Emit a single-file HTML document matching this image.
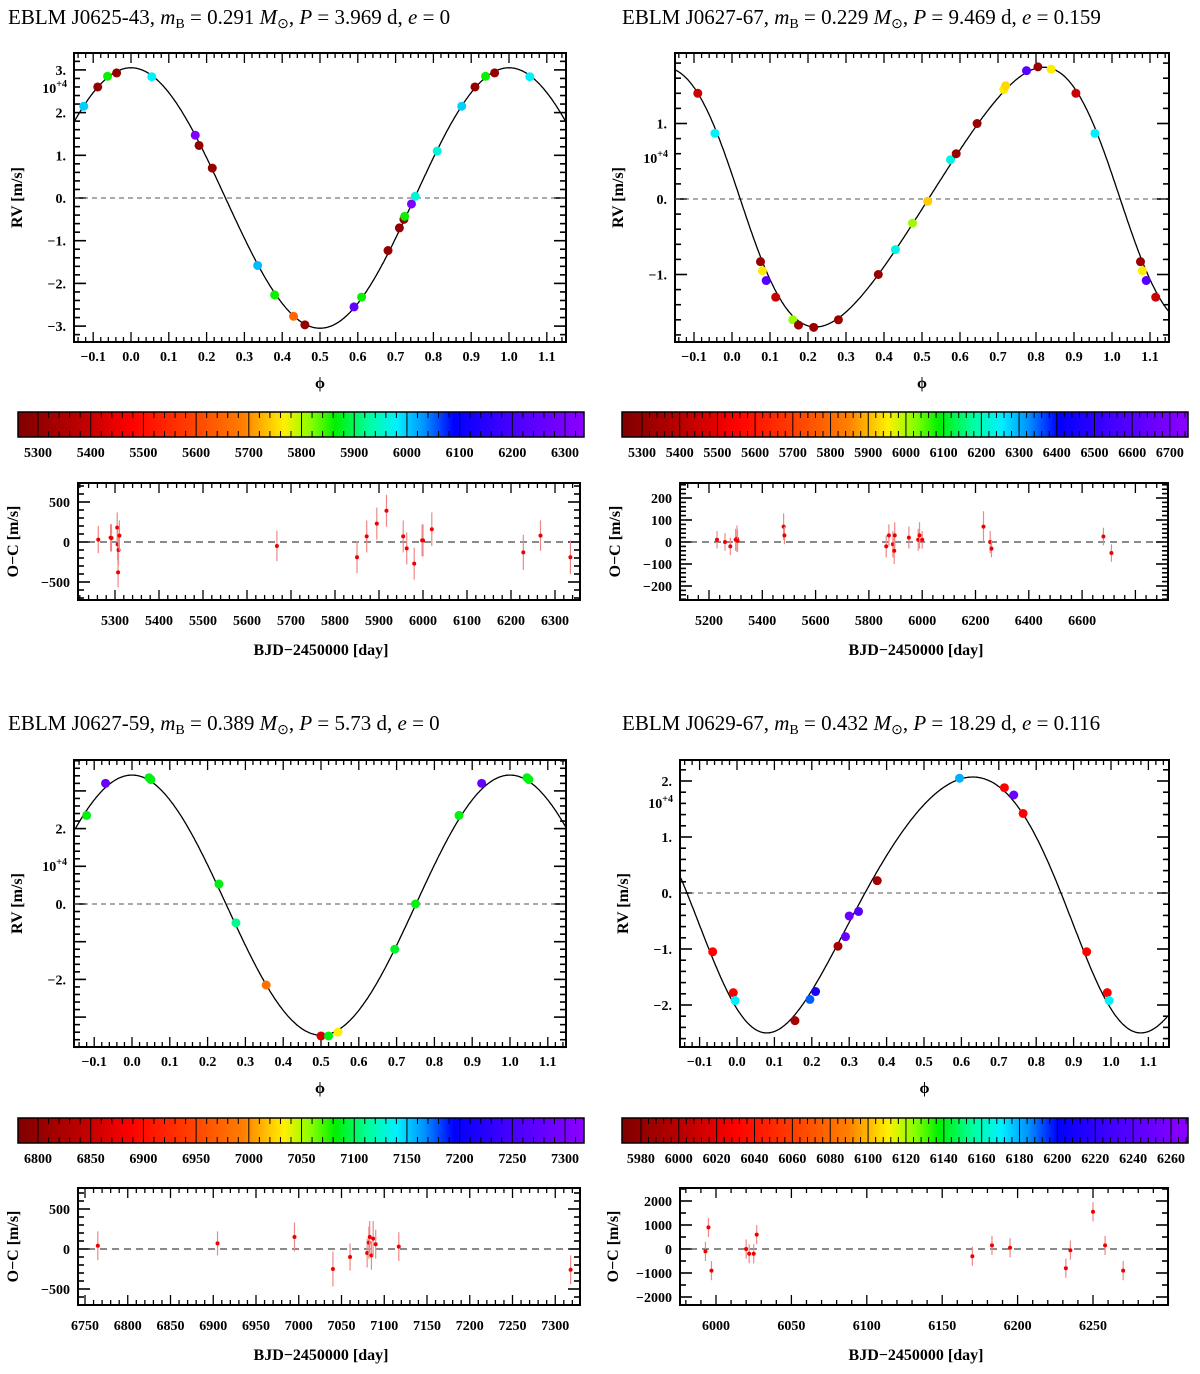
<!DOCTYPE html>
<html><head><meta charset="utf-8">
<style>
html,body{margin:0;padding:0;background:#fff;}
svg{display:block;font-family:"Liberation Serif",serif;}
.t{font-size:21px;}
.tl{font-size:14px;font-weight:bold;}
.al{font-size:16px;font-weight:bold;}
</style></head>
<body>
<svg id="fig" width="1200" height="1374" viewBox="0 0 1200 1374" xmlns="http://www.w3.org/2000/svg">
<text class="t" x="8" y="24">EBLM J0625-43, <tspan font-style="italic">m</tspan><tspan font-size="14" dy="4">B</tspan><tspan dy="-4"> = 0.291 </tspan><tspan font-style="italic">M</tspan><tspan font-size="14" dy="4">⊙</tspan><tspan dy="-4">, </tspan><tspan font-style="italic">P</tspan> = 3.969 d, <tspan font-style="italic">e</tspan> = 0</text>
<text class="t" x="622" y="24">EBLM J0627-67, <tspan font-style="italic">m</tspan><tspan font-size="14" dy="4">B</tspan><tspan dy="-4"> = 0.229 </tspan><tspan font-style="italic">M</tspan><tspan font-size="14" dy="4">⊙</tspan><tspan dy="-4">, </tspan><tspan font-style="italic">P</tspan> = 9.469 d, <tspan font-style="italic">e</tspan> = 0.159</text>
<text class="t" x="8" y="730">EBLM J0627-59, <tspan font-style="italic">m</tspan><tspan font-size="14" dy="4">B</tspan><tspan dy="-4"> = 0.389 </tspan><tspan font-style="italic">M</tspan><tspan font-size="14" dy="4">⊙</tspan><tspan dy="-4">, </tspan><tspan font-style="italic">P</tspan> = 5.73 d, <tspan font-style="italic">e</tspan> = 0</text>
<text class="t" x="622" y="730">EBLM J0629-67, <tspan font-style="italic">m</tspan><tspan font-size="14" dy="4">B</tspan><tspan dy="-4"> = 0.432 </tspan><tspan font-style="italic">M</tspan><tspan font-size="14" dy="4">⊙</tspan><tspan dy="-4">, </tspan><tspan font-style="italic">P</tspan> = 18.29 d, <tspan font-style="italic">e</tspan> = 0.116</text>
</svg>
<script>
// ---- data: panel 1 (J0625-43) ----
const p1Phase=[-0.125,-0.088,-0.062,-0.038,0.055,0.17,0.18,0.215,0.335,0.38,0.43,0.46,0.59,0.61,0.68,0.71,0.722,0.724,0.742,0.752,0.81,0.875,0.91,0.938,0.962,1.055];
const p1RV=[2.15,2.6,2.85,2.93,2.84,1.47,1.23,0.7,-1.58,-2.27,-2.77,-2.97,-2.55,-2.32,-1.23,-0.7,-0.5,-0.43,-0.14,0.04,1.1,2.15,2.6,2.85,2.93,2.84];
const p1BJD=[6000,5300,5860,5300,5980,6310,5300,5300,6010,5860,5650,5300,6250,5860,5300,5300,5300,5860,6300,5960,5960,6000,5300,5860,5300,5980];
const p1OCd=[5262,5290,5292,5305,5306,5308,5310,5307,5668,5850,5872,5895,5917,5955,5963,5980,5998,6000,6020,6228,6267,6335];
const p1OCv=[30,55,50,180,-30,-100,80,-380,-50,-190,70,230,390,70,-80,-270,20,20,160,-130,80,-190];
const p1OCe=[170,170,170,190,190,190,190,190,190,200,200,200,200,200,200,200,200,200,210,220,190,210];
// ---- data: panel 2 (J0627-67) ----
const p2Phase=[-0.09,-0.045,0.075,0.08,0.09,0.115,0.16,0.175,0.215,0.28,0.385,0.43,0.475,0.515,0.575,0.59,0.645,0.715,0.72,0.775,0.805,0.84,0.905,0.955,1.075,1.08,1.09,1.115];
const p2RV=[1.4,0.87,-0.83,-0.95,-1.08,-1.3,-1.6,-1.67,-1.7,-1.6,-1.0,-0.67,-0.32,-0.03,0.52,0.6,1.0,1.45,1.5,1.7,1.75,1.72,1.4,0.87,-0.83,-0.95,-1.08,-1.3];
const p2BJD=[5450,6250,5320,5950,6600,5450,6010,5320,5320,5320,5320,6230,6010,5920,6230,5320,5320,5950,5930,6600,5320,5950,5450,6250,5320,5950,6600,5450];
const p2OCd=[5230,5260,5280,5300,5305,5307,5480,5483,5865,5875,5890,5895,5897,5950,5985,5990,6000,6230,6255,6260,6680,6710];
const p2OCv=[10,0,-20,10,15,5,70,30,-20,30,-10,-40,30,20,10,30,10,70,0,-30,25,-50];
const p2OCe=[40,40,40,50,60,50,60,40,50,50,60,60,60,50,50,60,40,70,50,40,40,40];
// ---- data: panel 3 (J0627-59) ----
const p3Phase=[-0.12,-0.07,0.045,0.05,0.23,0.275,0.355,0.5,0.52,0.545,0.695,0.75,0.865,0.925,1.045,1.05];
const p3RV=[2.35,3.2,3.35,3.3,0.53,-0.5,-2.15,-3.5,-3.5,-3.4,-1.2,0.0,2.35,3.2,3.35,3.3];
const p3BJD=[7085,7280,7085,7085,7085,7110,6985,6860,7085,7033,7090,7085,7085,7280,7085,7085];
const p3OCd=[6765,6905,6995,7040,7060,7080,7082,7083,7085,7087,7090,7117,7318];
const p3OCv=[40,70,150,-250,-100,-50,80,150,-80,130,60,30,-260];
const p3OCe=[180,150,180,220,170,180,200,200,180,220,180,180,180];
// ---- data: panel 4 (J0629-67) ----
const p4Phase=[-0.065,-0.01,-0.005,0.155,0.195,0.21,0.27,0.29,0.3,0.325,0.375,0.595,0.715,0.74,0.765,0.935,0.99,0.995];
const p4RV=[-1.05,-1.78,-1.92,-2.28,-1.9,-1.76,-0.95,-0.78,-0.41,-0.33,0.22,2.05,1.88,1.75,1.42,-1.05,-1.78,-1.92];
const p4BJD=[6030,6030,6170,5990,6190,6210,5990,6250,6250,6240,5990,6180,6030,6250,6030,6030,6030,6170];
const p4OCd=[5993,5995,5997,6020,6022,6025,6027,6170,6183,6195,6232,6235,6250,6258,6270];
const p4OCv=[-100,900,-900,0,-200,-200,600,-300,150,50,-800,-50,1550,150,-900];
const p4OCe=[400,400,400,400,400,400,400,400,400,400,400,400,400,400,400];

const NS="http://www.w3.org/2000/svg";
const svg=document.getElementById('fig');
function mk(tag,attrs,parent){const e=document.createElementNS(NS,tag);for(const k in attrs)e.setAttribute(k,attrs[k]);(parent||svg).appendChild(e);return e;}
const stops=[[0,[128,0,0]],[0.13,[200,0,0]],[0.2,[255,0,0]],[0.3,[255,60,0]],[0.4,[255,128,0]],[0.47,[255,240,0]],[0.52,[128,255,0]],[0.56,[0,240,0]],[0.62,[0,255,160]],[0.67,[0,240,255]],[0.72,[0,140,255]],[0.77,[0,0,255]],[0.87,[70,0,255]],[1,[140,0,255]]];
function cmap(t){t=Math.max(0,Math.min(1,t));for(let i=1;i<stops.length;i++){if(t<=stops[i][0]){const a=stops[i-1],b=stops[i],f=(t-a[0])/(b[0]-a[0]);const c=a[1].map((v,j)=>Math.round(v+(b[1][j]-v)*f));return `rgb(${c})`;}}return 'rgb(140,0,255)';}
function kep(ph,p){if(p.e===0)return p.K*Math.cos(2*Math.PI*(ph-p.tp))+p.g;const M=2*Math.PI*(ph-p.tp);let E=M;for(let i=0;i<30;i++)E=E-(E-p.e*Math.sin(E)-M)/(1-p.e*Math.cos(E));const nu=2*Math.atan2(Math.sqrt(1+p.e)*Math.sin(E/2),Math.sqrt(1-p.e)*Math.cos(E/2));return p.K*(Math.cos(nu+p.w)+p.e*Math.cos(p.w))+p.g;}

function frame(name,x0,x1,y0,y1,xs,ys,xt,yt){
  const g=mk('g',{});
  for(const [v,maj] of xt.ticks){const x=xs(v);if(x<x0-0.5||x>x1+0.5)continue;const L=maj?10:5;
    mk('line',{x1:x,x2:x,y1:y0,y2:y0+L,stroke:'#000','stroke-width':1.3},g);mk('line',{x1:x,x2:x,y1:y1,y2:y1-L,stroke:'#000','stroke-width':1.3},g);}
  for(const [v,maj] of yt.ticks){const y=ys(v);if(y<y0-0.5||y>y1+0.5)continue;const L=maj?12:6;
    mk('line',{x1:x0,x2:x0+L,y1:y,y2:y,stroke:'#000','stroke-width':1.6},g);mk('line',{x1:x1,x2:x1-L,y1:y,y2:y,stroke:'#000','stroke-width':1.6},g);}
  mk('rect',{x:x0,y:y0,width:x1-x0,height:y1-y0,fill:'none',stroke:'#000','stroke-width':2},g);
  return g;
}
function ticks(a,b,step,nm){const r=[];const ms=step/nm;for(let i=Math.ceil(a/ms-1e-6);i*ms<=b+1e-9;i++){const v=i*ms;r.push([v,Math.abs(v/step-Math.round(v/step))<1e-6]);}return r;}
function labels(arr,fn,cls,anchor,name){arr.forEach(([txt,x,y])=>{const t=mk('text',{x:x,y:y,'text-anchor':anchor,class:cls});t.textContent=txt;});}

function rvPanel(id,P){
  const xs=v=>P.xo+v*P.xk, ys=v=>P.yo-v*P.yk;
  frame(id+'-rv-axes',P.x0,P.x1,P.y0,P.y1,xs,ys,{ticks:ticks(-0.2,1.2,0.1,5)},{ticks:ticks(-5,5,1,5)});
  const cid='clip-'+id;const cp=mk('clipPath',{id:cid});mk('rect',{x:P.x0,y:P.y0,width:P.x1-P.x0,height:P.y1-P.y0},cp);
  const zl=mk('line',{x1:P.x0,x2:P.x1,y1:ys(0),y2:ys(0),stroke:'#555','stroke-dasharray':'5,4','stroke-width':1});
  
  let d='';for(let i=0;i<=600;i++){const ph=-0.15+1.3*i/600;d+=(i?'L':'M')+xs(ph).toFixed(1)+','+ys(kep(ph,P.orb)).toFixed(1);}
  const c=mk('path',{d:d,fill:'none',stroke:'#000','stroke-width':1.3,'clip-path':`url(#${cid})`});
  
  P.ph.forEach((ph,i)=>{const pt=mk('circle',{cx:xs(ph),cy:ys(P.rv[i]),r:4.5,fill:cmap((P.bjd[i]-P.cb[0])/(P.cb[1]-P.cb[0])),'clip-path':`url(#${cid})`});
    });
  const xl=[];for(let k=-1;k<=11;k++){const v=k/10;xl.push([(v<0?'−':'')+Math.abs(v).toFixed(1),xs(v),P.y1+19]);}
  labels(xl,null,'tl','middle',id+'-x-tick-label');
  labels(P.yl.map(v=>[(v<0?'−':'')+Math.abs(v)+'.',P.x0-8,ys(v)+5]),null,'tl','end',id+'-y-tick-label');
  const e=mk('text',{x:P.x0-7,y:P.expY,'text-anchor':'end',class:'tl'});e.innerHTML='10<tspan font-size="10" dy="-6">+4</tspan>';
  const yl=mk('text',{x:0,y:0,class:'al','text-anchor':'middle',transform:`translate(${P.x0-52},${(P.y0+P.y1)/2}) rotate(-90)`});yl.textContent='RV [m/s]';
  const xt=mk('text',{x:(P.x0+P.x1)/2,y:P.y1+46,class:'al','text-anchor':'middle','font-weight':'normal'});xt.textContent='ϕ';
}
function colorbar(id,B){
  const g=mk('g',{});
  const gid='grad-'+id;const lg=mk('linearGradient',{id:gid,x1:0,x2:1,y1:0,y2:0});
  stops.forEach(s=>mk('stop',{offset:s[0],'stop-color':`rgb(${s[1]})`},lg));
  mk('rect',{x:B.x0,y:B.y0,width:B.x1-B.x0,height:25,fill:`url(#${gid})`},g);
  const xs=v=>B.x0+(v-B.r[0])/(B.r[1]-B.r[0])*(B.x1-B.x0);
  for(let v=B.l0;v<=B.r[1];v+=B.step){const x=xs(v);mk('line',{x1:x,x2:x,y1:B.y0,y2:B.y0+25,stroke:'#000','stroke-width':1},g);
    for(let k=1;k<5;k++){const xm=xs(v+B.step*k/5);if(xm>B.x1)break;mk('line',{x1:xm,x2:xm,y1:B.y0,y2:B.y0+6,stroke:'#000','stroke-width':1},g);mk('line',{x1:xm,x2:xm,y1:B.y0+25,y2:B.y0+19,stroke:'#000','stroke-width':1},g);}}
  mk('rect',{x:B.x0,y:B.y0,width:B.x1-B.x0,height:25,fill:'none',stroke:'#000','stroke-width':1.5},g);
  const l=[];for(let v=B.l0;v<=B.l1+1e-6;v+=B.step)l.push([String(v),xs(v),B.y0+45]);
  labels(l,null,'tl','middle',id+'-colorbar-label');
}
function ocPanel(id,P){
  const xs=v=>P.xo+(v-P.dref)*P.xk, ys=v=>P.yo-v*P.yk;
  frame(id+'-oc-axes',P.x0,P.x1,P.y0,P.y1,xs,ys,{ticks:ticks(P.dmin,P.dmax,P.xstep,5)},{ticks:ticks(-P.ymax,P.ymax,P.ystep,P.ynm)});
  const zl=mk('line',{x1:P.x0+10,x2:P.x1-10,y1:ys(0),y2:ys(0),stroke:'#444','stroke-dasharray':'7,5','stroke-width':1.3});
  
  P.d.forEach((d,i)=>{const x=xs(d),y=ys(P.v[i]);
    const eb=mk('line',{x1:x,x2:x,y1:ys(P.v[i]-P.e[i]),y2:ys(P.v[i]+P.e[i]),stroke:'#e88','stroke-width':1.2});
    
    const pt=mk('circle',{cx:x,cy:y,r:2,fill:'#e00'});
    });
  const xl=[];for(let v=P.l0;v<=P.l1;v+=P.xstep)xl.push([String(v),xs(v),P.y1+25]);
  labels(xl,null,'tl','middle',id+'-oc-x-tick-label');
  labels(P.yl.map(v=>[(v<0?'−':'')+Math.abs(v),P.x0-8,ys(v)+5]),null,'tl','end',id+'-oc-y-tick-label');
  const yl=mk('text',{x:0,y:0,class:'al','text-anchor':'middle',transform:`translate(${P.x0-60+(P.ylOff||0)},${(P.y0+P.y1)/2}) rotate(-90)`});yl.textContent='O−C [m/s]';
  const xt=mk('text',{x:(P.x0+P.x1)/2-8,y:P.y1+55,class:'al','text-anchor':'middle'});xt.textContent='BJD−2450000 [day]';
}

rvPanel('p1',{x0:74,x1:566,y0:53,y1:342,xo:131,xk:378,yo:198,yk:42.7,orb:{K:3.05,e:0,w:0,tp:0,g:0},ph:p1Phase,rv:p1RV,bjd:p1BJD,cb:[5262,6336],yl:[3,2,1,0,-1,-2,-3],expY:93});
colorbar('p1',{x0:18,x1:584,y0:412,r:[5262,6336],l0:5300,l1:6300,step:100});
ocPanel('p1',{x0:78,x1:580,y0:483,y1:600,xo:115,dref:5300,xk:0.44,yo:542,yk:0.08,dmin:5200,dmax:6400,xstep:100,ymax:1000,ystep:500,ynm:5,d:p1OCd,v:p1OCv,e:p1OCe,l0:5300,l1:6300,yl:[500,0,-500]});
rvPanel('p2',{x0:675,x1:1169,y0:53,y1:342,xo:732,xk:380,yo:199,yk:75.5,orb:{K:1.72,e:0.159,w:Math.PI/2,tp:0.02,g:0.025},ph:p2Phase,rv:p2RV,bjd:p2BJD,cb:[5247,6748],yl:[1,0,-1],expY:163});
colorbar('p2',{x0:622,x1:1188,y0:412,r:[5247,6748],l0:5300,l1:6700,step:100});
ocPanel('p2',{x0:680,x1:1168,y0:483,y1:600,xo:709,dref:5200,xk:0.2665,yo:542,yk:0.22,dmin:5000,dmax:7000,xstep:200,ymax:400,ystep:100,ynm:5,d:p2OCd,v:p2OCv,e:p2OCe,l0:5200,l1:6600,yl:[200,100,0,-100,-200]});
rvPanel('p3',{x0:74,x1:566,y0:760,y1:1047,xo:132,xk:378,yo:904,yk:37.7,orb:{K:3.45,e:0,w:0,tp:0,g:-0.03},ph:p3Phase,rv:p3RV,bjd:p3BJD,cb:[6781,7318],yl:[2,0,-2],expY:871});
colorbar('p3',{x0:18,x1:584,y0:1118,r:[6781,7318],l0:6800,l1:7300,step:50});
ocPanel('p3',{x0:78,x1:580,y0:1188,y1:1305,xo:85,dref:6750,xk:0.855,yo:1249,yk:0.08,dmin:6700,dmax:7400,xstep:50,ymax:1000,ystep:500,ynm:5,d:p3OCd,v:p3OCv,e:p3OCe,l0:6750,l1:7300,yl:[500,0,-500]});
rvPanel('p4',{x0:680,x1:1169,y0:760,y1:1047,xo:737,xk:374,yo:893,yk:56,orb:{K:2.285,e:0.116,w:137*Math.PI/180,tp:-0.016,g:-0.02},ph:p4Phase,rv:p4RV,bjd:p4BJD,cb:[5970,6269],yl:[2,1,0,-1,-2],expY:808});
colorbar('p4',{x0:622,x1:1188,y0:1118,r:[5970,6269],l0:5980,l1:6260,step:20});
ocPanel('p4',{x0:680,x1:1168,y0:1188,y1:1305,xo:716,dref:6000,xk:1.508,yo:1249,yk:0.024,dmin:5950,dmax:6300,xstep:50,ymax:3000,ystep:1000,ynm:2,d:p4OCd,v:p4OCv,e:p4OCe,l0:6000,l1:6250,yl:[2000,1000,0,-1000,-2000],ylOff:-2});
</script>
</body></html>
